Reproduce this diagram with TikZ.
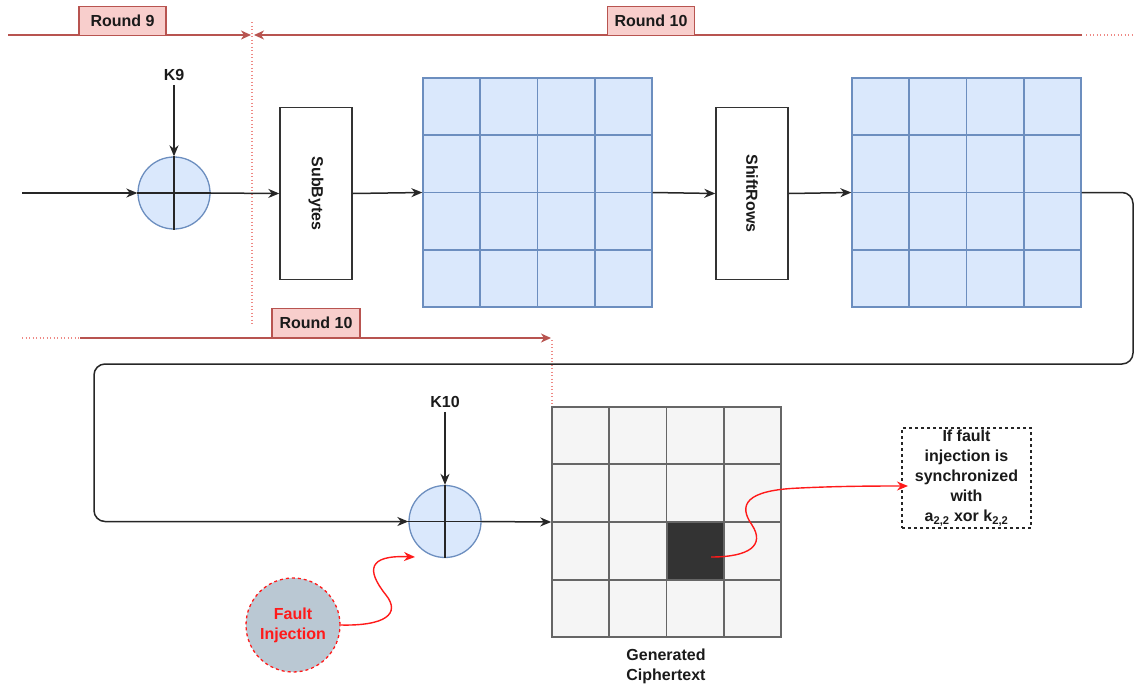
\documentclass[tikz,border=0pt]{standalone}
\usepackage{fontspec}
\setmainfont{Liberation Sans}
\usetikzlibrary{arrows.meta,calc}
\definecolor{bfill}{HTML}{DAE8FC}
\definecolor{bdraw}{HTML}{6C8EBF}
\definecolor{gfill}{HTML}{F5F5F5}
\definecolor{gdraw}{HTML}{666666}
\definecolor{rfill}{HTML}{F8CECC}
\definecolor{rdraw}{HTML}{B85450}
\definecolor{rdot}{HTML}{EA6B66}
\definecolor{ffill}{HTML}{BAC8D3}
\definecolor{fred}{HTML}{FF1A1A}
\definecolor{darkcell}{HTML}{333333}
\definecolor{txt}{HTML}{1A1A1A}
\begin{document}
\begin{tikzpicture}[x=1pt,y=-1pt,
  font=\fontsize{16}{20}\selectfont\bfseries, text=txt,
  arr/.style={draw=black!85, line width=1.5pt, -{Stealth[length=11pt,width=9pt,inset=3.5pt]}},
  tline/.style={draw=rdraw, line width=1.5pt},
  tarr/.style={tline, -{Stealth[length=10pt,width=9pt,inset=3pt]}},
  rdots/.style={draw=rdot!80, line width=1.3pt, dash pattern=on 1.3pt off 2.2pt},
  roundlbl/.style={draw=rdraw, fill=rfill, line width=1.2pt, minimum height=29pt, inner sep=3pt},
  opbox/.style={draw=black!80, fill=white, line width=1.4pt, minimum width=72pt, minimum height=172pt},
  bgrid/.style={draw=bdraw, fill=bfill, line width=1.3pt, minimum width=229pt, minimum height=229pt, inner sep=0pt},
  ggrid/.style={draw=gdraw, fill=gfill, line width=1.5pt, minimum width=229pt, minimum height=230pt, inner sep=0pt},
  xorc/.style={circle, draw=bdraw, fill=bfill, line width=1.3pt, minimum size=72pt, inner sep=0pt},
  redcurve/.style={draw=fred, line width=1.4pt, -{Stealth[length=11pt,width=9pt,inset=3.5pt]}},
  lbl/.style={inner sep=2pt, align=center}
]
\useasboundingbox (0,0) rectangle (1134,686);

% ---- timelines (drawn first, under labels)
\coordinate (t1a) at (8,35);
\coordinate (t1b) at (251,35);
\coordinate (t1c) at (1082,35);
\coordinate (t1d) at (254,35);
\coordinate (t1e) at (1086,35);
\coordinate (t1f) at (1134,35);
\coordinate (v1a) at (252,22);
\coordinate (v1b) at (252,325);
\draw[tarr] (t1a) -- (t1b);
\draw[tarr] (t1c) -- (t1d);
\draw[rdots] (t1e) -- (t1f);
\draw[rdots] (v1a) -- (v1b);

\coordinate (t2a) at (22,338);
\coordinate (t2b) at (80,338);
\coordinate (t2c) at (551,338);
\coordinate (v2a) at (552,340);
\coordinate (v2b) at (552,407);
\draw[rdots] (t2a) -- (t2b);
\draw[tarr] (t2b) -- (t2c);
\draw[rdots] (v2a) -- (v2b);

\node[roundlbl, minimum width=87pt] (r9) at (122.5,21) {Round 9};
\node[roundlbl, minimum width=87pt] (r10a) at (651,21) {Round 10};
\node[roundlbl, minimum width=88pt] (r10b) at (316,323) {Round 10};

% ---- top row
\node[xorc] (c1) at (174,193) {};
\draw[black!85, line width=1.4pt] (c1.north) -- (c1.south) (c1.west) -- (c1.east);
\node[lbl] (k9) at (174,75) {K9};
\node[opbox] (sb) at (316,193.5) {};
\node[rotate=-90] (sbt) at (sb.center) {SubBytes};
\node[bgrid] (g1) at (537.5,192.5) {};
\node[opbox] (sr) at (752,193.5) {};
\node[rotate=-90] (srt) at (sr.center) {ShiftRows};
\node[bgrid] (g2) at (966.5,192.5) {};

\foreach \g in {g1,g2}{
  \foreach \i in {1,2,3}{
    \draw[bdraw, line width=1.3pt] ($(\g.north west)!\i/4!(\g.north east)$) -- ($(\g.south west)!\i/4!(\g.south east)$);
    \draw[bdraw, line width=1.3pt] ($(\g.north west)!\i/4!(\g.south west)$) -- ($(\g.north east)!\i/4!(\g.south east)$);
  }
}

\coordinate (in) at (22,193);
\draw[arr] (in) -- (c1.west);
\draw[arr, shorten <=2pt] (k9.south) -- (c1.north);
\draw[arr] (c1.east) -- (sb.west);
\draw[arr] (sb.east) -- (g1.west);
\draw[arr] (g1.east) -- (sr.west);
\draw[arr] (sr.east) -- (g2.west);

% ---- bottom row
\node[xorc] (c2) at (445,521.5) {};
\draw[black!85, line width=1.4pt] (c2.north) -- (c2.south) (c2.west) -- (c2.east);
\node[lbl] (k10) at (445,402) {K10};
\node[ggrid] (g3) at (666.5,522) {};
\foreach \i in {1,2,3}{
  \draw[gdraw, line width=1.5pt] ($(g3.north west)!\i/4!(g3.north east)$) -- ($(g3.south west)!\i/4!(g3.south east)$);
  \draw[gdraw, line width=1.5pt] ($(g3.north west)!\i/4!(g3.south west)$) -- ($(g3.north east)!\i/4!(g3.south east)$);
}
\node[fill=darkcell, draw=gdraw, line width=1pt, minimum width=56pt, minimum height=57pt, inner sep=0pt] (dc) at (695,550.5) {};

\coordinate (w1) at (1133,192.5);
\coordinate (w2) at (1133,364);
\coordinate (w3) at (94,364);
\coordinate (w4) at (94,521.5);
\draw[arr, rounded corners=11pt] (g2.east) -- (w1) -- (w2) -- (w3) -- (w4) -- (c2.west);
\draw[arr, shorten <=2pt] (k10.south) -- (c2.north);
\draw[arr] (c2.east) -- (g3.west);

\node[lbl] (gen) at (666,666) {Generated\\Ciphertext};

\node[draw=black!85, dashed, line width=1.2pt, minimum width=129pt, minimum height=100pt, align=center, inner sep=0pt] (note) at (966.5,478)
  {If fault\\injection is\\synchronized\\with\\a\textsubscript{2,2} xor k\textsubscript{2,2}};

\node[circle, fill=ffill, draw=fred, dashed, line width=1.3pt, minimum size=94pt, inner sep=0pt, text=fred, align=center] (fi) at (293,625) {Fault\\Injection};

\coordinate (fiend) at (415,557);
\coordinate (dcs) at (711,557);
\coordinate (noteend) at (908,486);
\draw[redcurve] (fi.east) .. controls (385,626) and (401,614) .. (386,595)
   .. controls (366,570) and (368,555) .. (fiend);
\draw[redcurve] (dcs) .. controls (750,557) and (765,545) .. (752,525)
   .. controls (738,505) and (745,490) .. (800,488)
   .. controls (840,486) and (880,486) .. (noteend);
\end{tikzpicture}
\end{document}
